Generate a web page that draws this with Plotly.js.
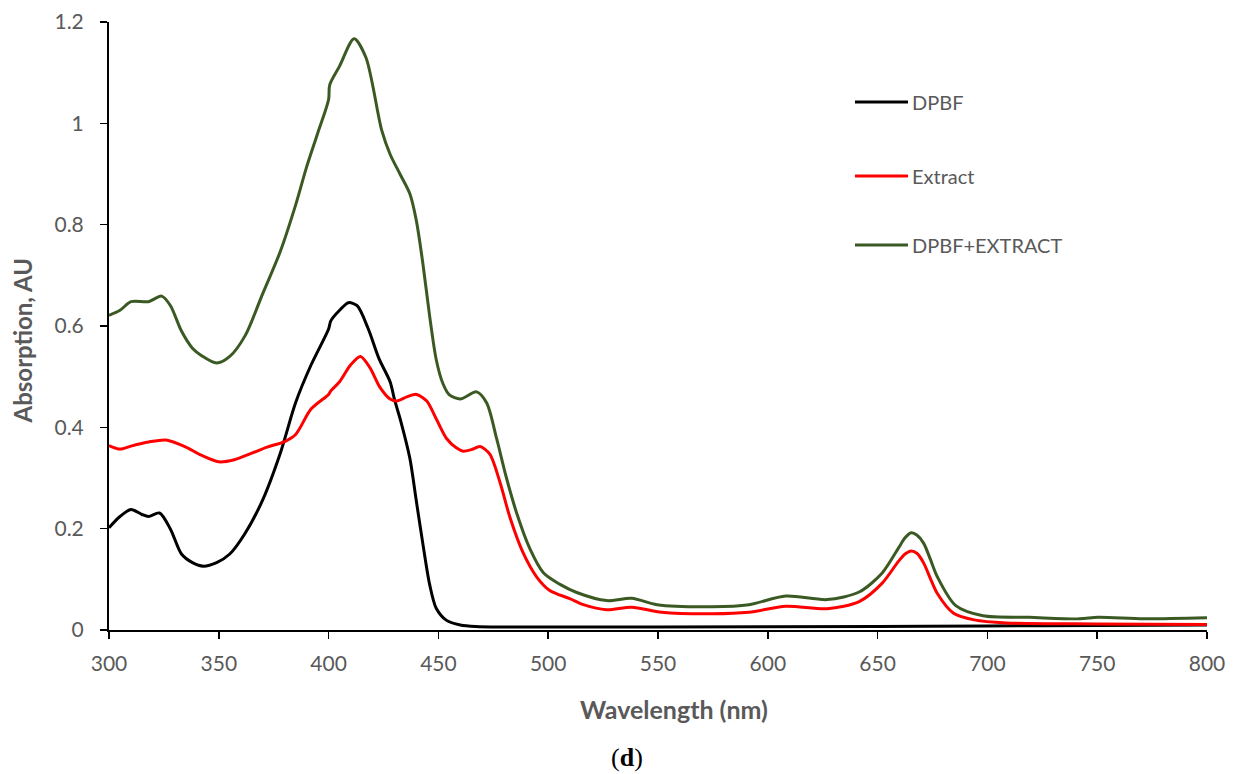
<!DOCTYPE html>
<html>
<head>
<meta charset="utf-8">
<script src="https://cdn.plot.ly/plotly-3.0.1.min.js"></script>
<style>html,body{margin:0;padding:0;background:#fff;}#chart{width:1234px;height:774px;}</style>
</head>
<body>
<div id="chart"></div>
<script>
// Series names
const seriesNames = ["DPBF", "Extract", "DPBF+EXTRACT"];
const seriesColors = ["#000000", "#FF0000", "#3B5A23"];

// DPBF
const dpbfX = [300,305,310,315,318,323,328,333,338,343,349,355,362,370,378,385,392,400,401,405,409,413,418,423,428,430,433,437,440,443,446,449,453.7,460,467,480,550,650,700,750,800];
const dpbfY = [0.202,0.224,0.238,0.228,0.224,0.231,0.199,0.150,0.133,0.126,0.133,0.150,0.191,0.257,0.349,0.449,0.523,0.594,0.610,0.631,0.646,0.640,0.595,0.535,0.490,0.455,0.410,0.339,0.253,0.168,0.090,0.043,0.019,0.010,0.007,0.006,0.006,0.007,0.008,0.009,0.010];

// Extract
const extractX = [300,305,310,318,326,335,342,350,357,365,372,380,385,392,400,401,405,410,414.5,418.8,423.4,428,431,435.6,440,444.7,449,453.7,458.3,461.3,465,469,473.4,478,482.6,488.6,494.7,500.7,509.8,516,526.6,538,551.7,574.7,591.4,608.2,627,641.6,652,659.4,662.5,665.3,668,671,674,677.2,684.6,694,708.6,750,800];
const extractY = [0.364,0.357,0.363,0.371,0.375,0.361,0.345,0.332,0.336,0.349,0.361,0.372,0.386,0.436,0.465,0.472,0.490,0.523,0.540,0.518,0.479,0.456,0.452,0.460,0.465,0.452,0.417,0.378,0.359,0.353,0.356,0.362,0.347,0.292,0.222,0.152,0.105,0.078,0.062,0.050,0.040,0.045,0.035,0.032,0.035,0.047,0.042,0.056,0.092,0.135,0.150,0.156,0.151,0.132,0.102,0.072,0.033,0.020,0.014,0.012,0.011];

// DPBF+EXTRACT
const mixX = [300,305,310,318,324,328,333,338,342,349,355,362,370,378,385,390,395,400,400.5,405,411.6,417,424.2,428,432.5,437,440,443,446,449,452,455,460,467.4,472,476.5,481,485.7,491.7,497.8,505.4,513,526.6,538,549.6,574.7,591.4,608.2,627,641.6,652,659.4,662.5,665.3,668,671,674,677.2,685.6,698,719,742,750.4,771.3,800];
const mixY = [0.621,0.631,0.648,0.648,0.659,0.640,0.590,0.556,0.542,0.527,0.540,0.581,0.664,0.747,0.839,0.914,0.980,1.047,1.076,1.113,1.167,1.130,0.986,0.939,0.900,0.861,0.807,0.721,0.620,0.534,0.487,0.464,0.456,0.470,0.448,0.378,0.300,0.230,0.160,0.113,0.090,0.074,0.058,0.0625,0.050,0.046,0.050,0.067,0.060,0.075,0.112,0.161,0.182,0.192,0.187,0.171,0.140,0.105,0.048,0.028,0.025,0.022,0.025,0.022,0.024];

// Axis ticks and titles
const xTicks = [300,350,400,450,500,550,600,650,700,750,800];
const yTicks = [0,0.2,0.4,0.6,0.8,1,1.2];
const xTitle = "Wavelength (nm)";
const yTitle = "Absorption, AU";
const panelLabel = "d";

const xs = [dpbfX, extractX, mixX];
const ys = [dpbfY, extractY, mixY];

const traces = seriesNames.map((n, i) => ({
  x: xs[i], y: ys[i], name: n, type: 'scatter', mode: 'lines',
  line: {color: seriesColors[i], width: 3, shape: 'spline', smoothing: 0.8},
  showlegend: false, hoverinfo: 'skip'
}));

const gray = '#595959';
const font = 'Lato, "Open Sans", sans-serif';

// manual legend
const legY = [0.8684, 0.7467, 0.6332];
const shapes = seriesNames.map((n, i) => ({
  type: 'line', xref: 'paper', yref: 'paper',
  x0: 0.6794, x1: 0.7277, y0: legY[i], y1: legY[i],
  line: {color: seriesColors[i], width: 3}
}));
const annotations = seriesNames.map((n, i) => ({
  text: n, xref: 'paper', yref: 'paper', x: 0.7295, y: legY[i],
  xanchor: 'left', yanchor: 'middle', showarrow: false,
  font: {family: font, size: 20, color: gray}
}));
annotations.push({
  text: '<b>' + xTitle + '</b>', xref: 'paper', yref: 'paper', x: 0.5146, y: -0.1299,
  xanchor: 'center', yanchor: 'middle', showarrow: false,
  font: {family: font, size: 25, color: gray}
});
annotations.push({
  text: '<b>' + yTitle + '</b>', xref: 'paper', yref: 'paper', x: -0.0779, y: 0.477,
  xanchor: 'center', yanchor: 'middle', showarrow: false, textangle: -90,
  font: {family: font, size: 24, color: gray}
});
annotations.push({
  text: '(<b>' + panelLabel + '</b>)', xref: 'paper', yref: 'paper', x: 0.4718, y: -0.2089,
  xanchor: 'center', yanchor: 'middle', showarrow: false,
  font: {family: '"Liberation Serif", "DejaVu Serif", serif', size: 26, color: '#000'}
});

const layout = {
  width: 1234, height: 774,
  margin: {l: 109, r: 27, t: 22, b: 144},
  paper_bgcolor: '#fff', plot_bgcolor: '#fff',
  showlegend: false,
  xaxis: {
    range: [300, 800], tickvals: xTicks, ticktext: xTicks.map(String),
    showgrid: false, zeroline: false, showline: true, linecolor: '#000', linewidth: 2,
    ticks: 'outside', ticklen: 7, tickcolor: '#000', tickwidth: 1.5,
    ticklabelstandoff: 7,
    tickfont: {family: font, size: 21, color: gray}
  },
  yaxis: {
    range: [0, 1.2], tickvals: yTicks, ticktext: yTicks.map(String),
    showgrid: false, zeroline: false, showline: true, linecolor: '#000', linewidth: 2,
    ticks: 'outside', ticklen: 7, tickcolor: '#000', tickwidth: 1.5,
    ticklabelstandoff: 12,
    tickfont: {family: font, size: 21, color: gray}
  },
  shapes: shapes,
  annotations: annotations
};

Plotly.newPlot('chart', traces, layout, {displayModeBar: false, staticPlot: true});
</script>
</body>
</html>
